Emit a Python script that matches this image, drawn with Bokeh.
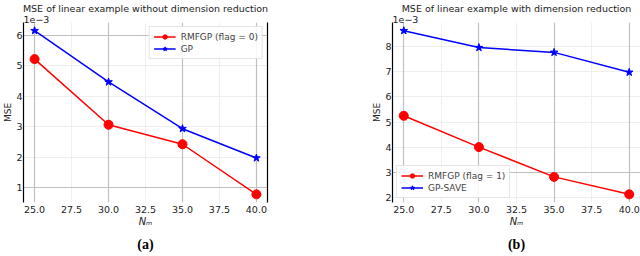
from bokeh.plotting import figure
from bokeh.models import (Range1d, FixedTicker, Legend, LegendItem, LinearAxis,
                          NumeralTickFormatter, Grid, Title)
from bokeh.layouts import row
from bokeh.embed import file_html
from bokeh.resources import INLINE

# ---- data ----
n_m = [25, 30, 35, 40]
a_rmfgp = [5.22, 3.07, 2.43, 0.79]
a_gp = [6.15, 4.47, 2.94, 1.98]
b_rmfgp = [5.25, 4.01, 2.83, 2.14]
b_gpsave = [8.62, 7.95, 7.76, 6.97]
x_ticks = [25.0, 27.5, 30.0, 32.5, 35.0, 37.5, 40.0]
a_yticks = [1, 2, 3, 4, 5, 6]
b_yticks = [2, 3, 4, 5, 6, 7, 8]
a_major_y = [1, 6]
b_major_y = [3]
major_x = [25, 30, 35, 40]
titles = ["MSE of linear example without dimension reduction",
          "MSE of linear example with dimension reduction"]
legend_a = ["RMFGP (flag = 0)", "GP"]
legend_b = ["RMFGP (flag = 1)", "GP-SAVE"]

FONT = "DejaVu Sans"


def pad(vals):
    lo, hi = min(vals), max(vals)
    m = (hi - lo) * 0.05
    return lo - m, hi + m


def make(title, red, blue, labels, yticks, major_y, tag, width, bl, br, legend_loc, right_spine):
    xr = Range1d(24.25, 40.75)
    y0, y1 = pad(red + blue)
    p = figure(width=width, height=256, output_backend="svg", toolbar_location=None,
               x_range=xr, y_range=Range1d(y0, y1),
               min_border_left=bl, min_border_right=br, min_border_top=20, min_border_bottom=52)
    p.outline_line_color = None
    p.background_fill_color = "white"
    p.xaxis.ticker = FixedTicker(ticks=x_ticks)
    p.yaxis.ticker = FixedTicker(ticks=yticks)
    p.xgrid.ticker = FixedTicker(ticks=x_ticks)
    p.ygrid.ticker = FixedTicker(ticks=yticks)
    p.xgrid.grid_line_color = "#efefef"
    p.ygrid.grid_line_color = "#efefef"
    p.add_layout(Grid(dimension=0, ticker=FixedTicker(ticks=major_x),
                      grid_line_color="#c0c0c0", grid_line_width=1.2))
    p.add_layout(Grid(dimension=1, ticker=FixedTicker(ticks=major_y),
                      grid_line_color="#c0c0c0", grid_line_width=1.2))

    p.xaxis.formatter = NumeralTickFormatter(format="0.0")
    p.yaxis.formatter = NumeralTickFormatter(format="0")
    for ax in (p.xaxis[0], p.yaxis[0]):
        ax.major_label_text_font = FONT
        ax.major_label_text_font_size = "9.5px"
        ax.major_label_text_color = "#222222"
        ax.minor_tick_line_color = None
        ax.major_tick_line_color = None
        ax.major_tick_out = 0
        ax.major_tick_in = 0
        ax.axis_label_text_font = FONT
        ax.axis_label_text_color = "#222222"
    p.xaxis.axis_line_color = None
    p.xaxis.major_label_standoff = 3
    p.xaxis.axis_label = "N\u2098"
    p.xaxis.axis_label_text_font_size = "10px"
    p.xaxis.axis_label_text_font_style = "italic"
    p.xaxis.axis_label_standoff = 0
    p.yaxis.axis_line_color = "black"
    p.yaxis.axis_line_width = 1.2
    p.yaxis.major_label_standoff = 1
    p.yaxis.axis_label = "MSE"
    p.yaxis.axis_label_text_font_size = "9px"
    p.yaxis.axis_label_text_font_style = "normal"
    p.yaxis.axis_label_standoff = 0

    if right_spine:
        ra = LinearAxis(axis_line_color="black", axis_line_width=1.2,
                        major_tick_line_color=None, minor_tick_line_color=None,
                        major_tick_out=0, major_tick_in=0,
                        major_label_text_font_size="0px", ticker=FixedTicker(ticks=[]))
        p.add_layout(ra, "right")

    r1 = p.line(n_m, red, line_color="#ff0000", line_width=1.5)
    r1m = p.scatter(n_m, red, marker="circle", size=9, fill_color="#ff0000", line_color="#ff0000")
    r2 = p.line(n_m, blue, line_color="#0000ff", line_width=1.5)
    r2m = p.scatter(n_m, blue, marker="star", size=8, fill_color="#0000ff", line_color="#0000ff")

    leg = Legend(items=[LegendItem(label=labels[0], renderers=[r1, r1m]),
                        LegendItem(label=labels[1], renderers=[r2, r2m])],
                 location=legend_loc, margin=4, padding=4, spacing=1,
                 label_text_font=FONT, label_text_font_size="9px",
                 label_height=11, glyph_height=11, glyph_width=22,
                 border_line_color="#cccccc", background_fill_alpha=0.85,
                 label_standoff=5)
    p.add_layout(leg)

    p.add_layout(Title(text="1e\u22123", align="left", offset=0, standoff=0,
                       text_font=FONT, text_font_size="9.5px", text_font_style="normal",
                       text_color="#222222"), "above")
    p.add_layout(Title(text=title, align="center", standoff=0,
                       text_font=FONT, text_font_size="9.5px", text_font_style="normal",
                       text_color="#222222"), "above")
    p.add_layout(Title(text=tag, align="center", standoff=10,
                       text_font="Liberation Serif", text_font_size="14px",
                       text_font_style="bold", text_color="black"), "below")
    return p


pa = make(titles[0], a_rmfgp, a_gp, legend_a, a_yticks, a_major_y, "(a)", 320, 18, 53,
          "top_right", True)
pb = make(titles[1], b_rmfgp, b_gpsave, legend_b, b_yticks, b_major_y, "(b)", 320, 72, 0,
          "bottom_left", False)

layout = row(pa, pb)
open("out.html", "w").write(file_html(layout, INLINE))
